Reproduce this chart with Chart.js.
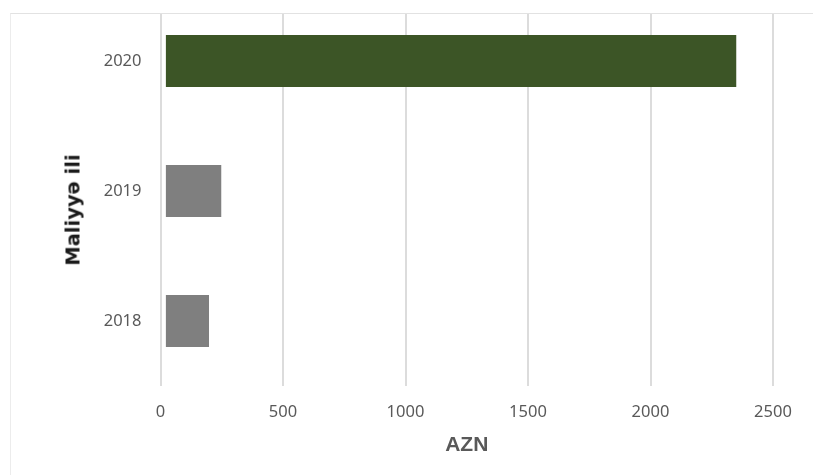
<!DOCTYPE html>
<html>
<head>
<meta charset="utf-8">
<script src="https://cdn.jsdelivr.net/npm/chart.js@4.4.0/dist/chart.umd.min.js"></script>
<style>
  body { margin: 0; background: #fff; width: 813px; height: 475px; overflow: hidden; position: relative; }
  #frame {
    position: absolute; left: 10px; top: 13px; width: 803px; height: 462px;
    overflow: hidden; border-top: 1px solid #e2e2e2; border-left: 1px solid #ececec;
  }
  #chart { position: absolute; left: -11px; top: -47px; }
  #ytitle {
    position: absolute; left: 73px; top: 210px;
    transform: translate(-50%, -50%) rotate(-90deg);
    font: bold 19.5px "DejaVu Sans", sans-serif; color: #1a1a1a; white-space: nowrap;
  }
</style>
</head>
<body>
<div id="frame"><canvas id="chart" width="813" height="516"></canvas></div>
<div id="ytitle">Maliyyə ili</div>
<script>
// Maliyyə ili / AZN
const years = ['2020', '2019', '2018'];
const amounts = [2350, 248, 198];
const barColors = ['#3c5526', '#7f7f7f', '#7f7f7f'];
const barStart = 22;
const xTicks = [0, 500, 1000, 1500, 2000, 2500];

const tickFont = { family: '"Noto Sans", sans-serif', size: 16.5 };

new Chart(document.getElementById('chart'), {
    type: 'bar',
    data: {
        labels: years,
        datasets: [{
            data: amounts,
            base: barStart,
            backgroundColor: barColors,
            borderWidth: 0,
            barPercentage: 0.4,
            categoryPercentage: 1
        }]
    },
    options: {
        indexAxis: 'y',
        responsive: false,
        animation: false,
        layout: { padding: { top: 12.5, right: 40, bottom: 21.5, left: 0 } },
        plugins: { legend: { display: false }, tooltip: { enabled: false } },
        scales: {
            x: {
                min: 0,
                max: 2500,
                afterBuildTicks: s => { s.ticks = xTicks.map(v => ({ value: v })); },
                grid: { color: '#dcdcdc', lineWidth: 2, drawTicks: false },
                border: { display: false },
                ticks: { color: '#595959', font: tickFont, padding: 16.5, callback: v => String(v) },
                title: {
                    display: true, text: 'AZN', color: '#595959',
                    font: { family: '"Liberation Sans", Arial, sans-serif', size: 21, weight: 'bold' },
                    padding: { top: -6.5, bottom: 4 }
                }
            },
            y: {
                afterFit: s => { s.width = 160.5; },
                grid: { display: false, drawTicks: false },
                border: { display: false },
                ticks: { color: '#595959', font: tickFont, padding: 19 }
            }
        }
    }
});
</script>
</body>
</html>
